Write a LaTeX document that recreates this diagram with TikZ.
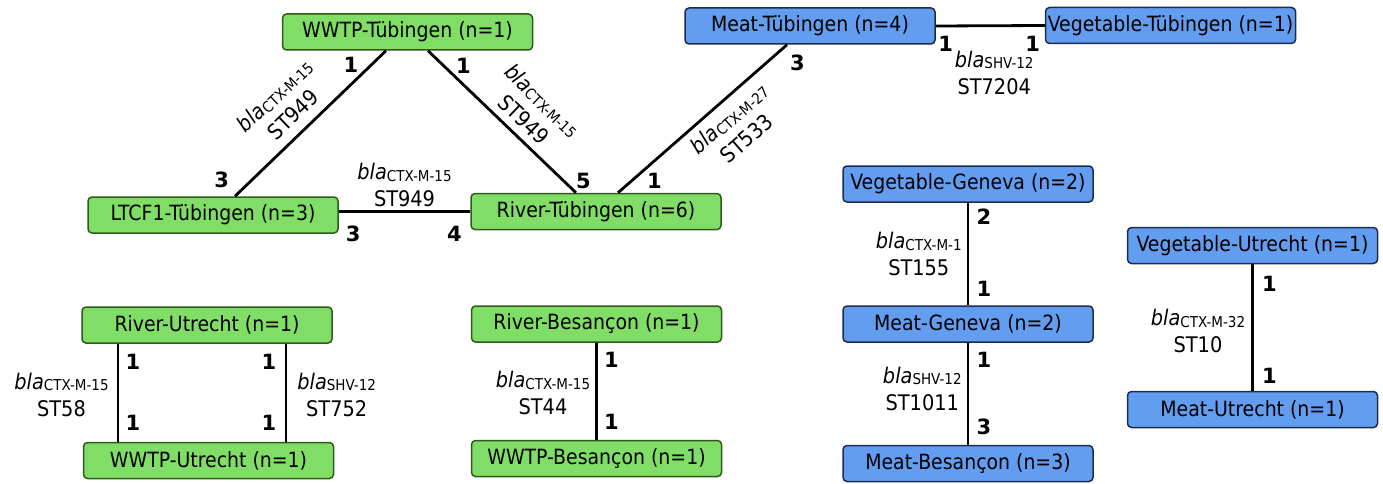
\documentclass[tikz,border=0pt]{standalone}
\usepackage{fontspec}
\setmainfont{DejaVu Sans Condensed}
\newfontfamily\numfont{DejaVu Sans}
\usepackage{xcolor}
\usepackage{tikz}
\usetikzlibrary{positioning}

\definecolor{envgreen}{RGB}{128,221,101}
\definecolor{envgreenline}{RGB}{46,90,28}
\definecolor{foodblue}{RGB}{98,157,240}
\definecolor{foodblueline}{RGB}{28,44,78}

\newcommand{\bla}[1]{\textit{bla}\raisebox{-1.5pt}{\fontsize{15}{15}\selectfont #1}}

\tikzset{
  site/.style={draw, line width=1.5pt, rounded corners=4pt, minimum width=250pt,
    minimum height=36pt, inner sep=0pt, font=\fontsize{21}{24}\selectfont},
  river/.style={site, fill=envgreen, draw=envgreenline},
  food/.style={site, fill=foodblue, draw=foodblueline},
  link/.style={line width=2.8pt, black},
  num/.style={font=\numfont\fontsize{21}{24}\selectfont\bfseries, inner sep=0pt},
  gene/.style={font=\fontsize{21.5}{27}\selectfont, align=center, inner sep=2pt}
}

\begin{document}
\begin{tikzpicture}[x=1pt, y=-1pt]
  \useasboundingbox (0,0) rectangle (1383,484);

  % environment
  \node[river] (wwtpT)  at (407.5,32)  {WWTP-Tübingen (n=1)};
  \node[river] (ltcfT)  at (213,215)   {LTCF1-Tübingen (n=3)};
  \node[river] (riverT) at (596,211.5) {River-Tübingen (n=6)};
  \node[river] (riverU) at (207,325)   {River-Utrecht (n=1)};
  \node[river] (wwtpU)  at (208.5,460.5) {WWTP-Utrecht (n=1)};
  \node[river] (riverB) at (596.5,324) {River-Besançon (n=1)};
  \node[river] (wwtpB)  at (596.5,458.5) {WWTP-Besançon (n=1)};

  % food
  \node[food] (meatT) at (810,26)      {Meat-Tübingen (n=4)};
  \node[food] (vegT)  at (1170.5,25.5) {Vegetable-Tübingen (n=1)};
  \node[food] (vegG)  at (968,184)     {Vegetable-Geneva (n=2)};
  \node[food] (meatG) at (968,324)     {Meat-Geneva (n=2)};
  \node[food] (meatB) at (968,463.5)   {Meat-Besançon (n=3)};
  \node[food] (vegU)  at (1252.5,245.5) {Vegetable-Utrecht (n=1)};
  \node[food] (meatU) at (1252.5,409.5) {Meat-Utrecht (n=1)};

  % Tübingen links
  \draw[link] ([xshift=22pt]ltcfT.north) -- ([xshift=-21.5pt]wwtpT.south)
    node[gene, sloped, above=7pt, pos=0.47] {\bla{CTX-M-15}\\ST949}
    node[num, pos=0.11, xshift=-30pt] {3}
    node[num, pos=0.9, xshift=-20pt] {1};
  \draw[link] ([xshift=20.5pt]wwtpT.south) -- ([xshift=-20pt]riverT.north)
    node[gene, sloped, above=5pt, pos=0.57] {\bla{CTX-M-15}\\ST949}
    node[num, pos=0.105, xshift=20pt] {1}
    node[num, pos=0.915, xshift=20pt] {5};
  \draw[link] (ltcfT.east |- riverT.west) -- (riverT.west)
    node[gene, above=1pt, midway] {\bla{CTX-M-15}\\ST949}
    node[num, pos=0.11, yshift=-22pt] {3}
    node[num, pos=0.88, yshift=-22pt] {4};
  \draw[link] ([xshift=22pt]riverT.north) -- ([xshift=-23pt]meatT.south)
    node[gene, sloped, below=5pt, pos=0.59] {\bla{CTX-M-27}\\ST533}
    node[num, pos=0.08, xshift=23pt] {1}
    node[num, pos=0.878, xshift=31pt] {3};
  \draw[link] (meatT.east) -- (vegT.west)
    node[gene, below=22pt, midway, xshift=4pt] {\bla{SHV-12}\\ST7204}
    node[num, pos=0.09, yshift=-18pt] {1}
    node[num, pos=0.89, yshift=-18pt] {1};

  % Geneva links
  \draw[link] (vegG) -- (meatG)
    node[gene, left=3pt, midway] {\bla{CTX-M-1}\\ST155}
    node[num, pos=0.135, xshift=16pt] {2}
    node[num, pos=0.84, xshift=16pt] {1};
  \draw[link] (meatG) -- (meatB)
    node[gene, left=3pt, pos=0.45] {\bla{SHV-12}\\ST1011}
    node[num, pos=0.165, xshift=16pt] {1}
    node[num, pos=0.825, xshift=16pt] {3};

  % Utrecht links
  \draw[link] (vegU) -- (meatU)
    node[gene, left=4pt, pos=0.53] {\bla{CTX-M-32}\\ST10}
    node[num, pos=0.155, xshift=17pt] {1}
    node[num, pos=0.884, xshift=17pt] {1};
  \draw[link] ([xshift=-89pt]riverU.south) -- ([xshift=-90.5pt]wwtpU.north)
    node[gene, left=6pt, pos=0.52] {\bla{CTX-M-15}\\ST58}
    node[num, pos=0.18, xshift=15pt] {1}
    node[num, pos=0.81, xshift=15pt] {1};
  \draw[link] ([xshift=79pt]riverU.south) -- ([xshift=77.5pt]wwtpU.north)
    node[gene, right=8pt, pos=0.52] {\bla{SHV-12}\\ST752}
    node[num, pos=0.18, xshift=-17pt] {1}
    node[num, pos=0.81, xshift=-17pt] {1};

  % Besançon link
  \draw[link] (riverB) -- (wwtpB)
    node[gene, left=3pt, pos=0.52] {\bla{CTX-M-15}\\ST44}
    node[num, pos=0.18, xshift=15pt] {1}
    node[num, pos=0.82, xshift=15pt] {1};
\end{tikzpicture}
\end{document}
